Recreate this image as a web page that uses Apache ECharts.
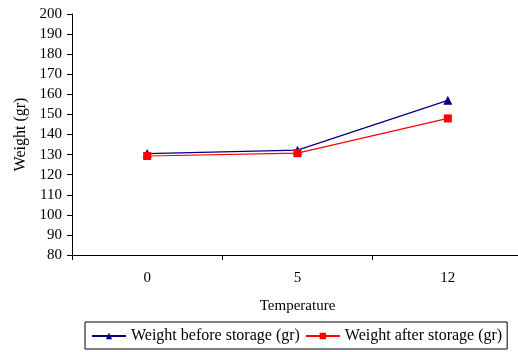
<!DOCTYPE html>
<html><head><meta charset="utf-8">
<script src="https://cdn.jsdelivr.net/npm/echarts@6/dist/echarts.min.js"></script>
<style>html,body{margin:0;padding:0;background:#fff;overflow:hidden;width:518px;height:352px}#c{width:530px;height:352px}</style>
</head><body><div id="c"></div>
<script>
const categories = ['0', '5', '12'];
const before = [130.5, 132.2, 157];
const after = [129.3, 130.7, 148];
const seriesNames = ['Weight before storage (gr)', 'Weight after storage (gr)'];
const font = 'Liberation Serif';
const chart = echarts.init(document.getElementById('c'));
chart.setOption({
  animation: false,
  textStyle: {fontFamily: font},
  grid: {left: 72, top: 14, height: 241, width: 451, containLabel: false},
  legend: {
    left: 85, top: 322,
    itemWidth: 34, itemHeight: 8, itemGap: 5,
    padding: [6, 5, 5, 6],
    borderColor: '#000', borderWidth: 1,
    textStyle: {fontFamily: font, fontSize: 16, color: '#000'},
    data: seriesNames
  },
  xAxis: {
    type: 'category', data: categories, boundaryGap: true,
    name: 'Temperature', nameLocation: 'middle', nameGap: 44,
    nameTextStyle: {fontFamily: font, fontSize: 15, color: '#000'},
    axisLine: {lineStyle: {color: '#000', width: 1}},
    axisTick: {show: true, length: 5, lineStyle: {color: '#000'}},
    axisLabel: {fontFamily: font, fontSize: 15, color: '#000', margin: 16},
    splitLine: {show: false}
  },
  yAxis: {
    type: 'value', min: 80, max: 200, interval: 10,
    name: 'Weight (gr)', nameLocation: 'middle', nameGap: 43,
    nameTextStyle: {fontFamily: font, fontSize: 16, color: '#000'},
    axisLine: {show: true, lineStyle: {color: '#000', width: 1}},
    axisTick: {show: true, length: 5, lineStyle: {color: '#000'}},
    axisLabel: {fontFamily: font, fontSize: 15, color: '#000', margin: 10},
    splitLine: {show: false}
  },
  series: [
    {name: seriesNames[0], type: 'line', data: before, symbol: 'triangle', symbolSize: 9,
     itemStyle: {color: '#000080'}, lineStyle: {color: '#000080', width: 1.2}},
    {name: seriesNames[1], type: 'line', data: after, symbol: 'rect', symbolSize: 8,
     itemStyle: {color: '#ff0000'}, lineStyle: {color: '#ff0000', width: 1.2}}
  ]
});
</script></body></html>
